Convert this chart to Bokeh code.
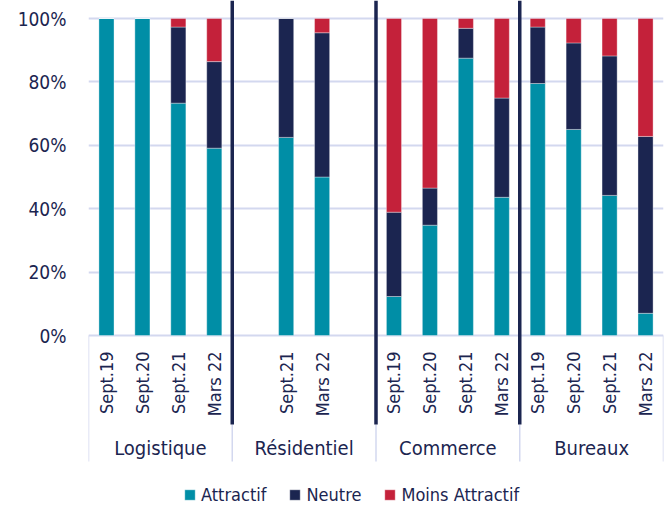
import math
from bokeh.plotting import figure
from bokeh.models import ColumnDataSource, Range1d, FixedTicker, PrintfTickFormatter
from bokeh.core.properties import value
from bokeh.embed import file_html
from bokeh.resources import INLINE

# ---------------- data ----------------
groups = ["Logistique", "Résidentiel", "Commerce", "Bureaux"]
periods = [
    ["Sept.19", "Sept.20", "Sept.21", "Mars 22"],
    ["", "Sept.21", "Mars 22", ""],
    ["Sept.19", "Sept.20", "Sept.21", "Mars 22"],
    ["Sept.19", "Sept.20", "Sept.21", "Mars 22"],
]
attractif = [
    [100, 100, 73.3, 59.1],
    [None, 62.5, 50.0, None],
    [12.3, 34.8, 87.5, 43.6],
    [79.5, 65.0, 44.2, 7.0],
]
neutre = [
    [0, 0, 24.0, 27.3],
    [None, 37.5, 45.5, None],
    [26.6, 11.7, 9.4, 31.3],
    [17.8, 27.3, 44.0, 55.8],
]
moins_attractif = [
    [0, 0, 2.7, 13.6],
    [None, 0, 4.5, None],
    [61.1, 53.5, 3.1, 25.1],
    [2.7, 7.7, 11.8, 37.2],
]
series = ["Attractif", "Neutre", "Moins Attractif"]
y_ticks = [0, 20, 40, 60, 80, 100]

# ---------------- style ----------------
FONT = "'DejaVu Sans Condensed', Roboto, sans-serif"
TEXT = "#1b2550"
COLORS = ["#008ea6", "#1b2550", "#c4213a"]
GRID = "#d3d8ef"

W, H = 670, 506
LEFT, RIGHT = 88, 7
PX = 100 / 317.0          # data units per screen pixel (vertical)
ZERO_PX = 335             # screen y of the 0% line
TOP_PX = 18               # screen y of the 100% line

n_slots = len(groups) * 4

xs, lab_x, lab_t, a, n, m = [], [], [], [], [], []
for gi, g in enumerate(groups):
    for si in range(4):
        x = gi * 4 + si
        if periods[gi][si]:
            lab_x.append(x)
            lab_t.append(periods[gi][si])
        if attractif[gi][si] is None:
            continue
        xs.append(x)
        a.append(attractif[gi][si])
        n.append(neutre[gi][si])
        m.append(moins_attractif[gi][si])

src = ColumnDataSource(dict(x=xs, Attractif=a, Neutre=n, **{"Moins Attractif": m}))

p = figure(
    width=W, height=H,
    x_range=Range1d(-0.5, n_slots - 0.5),
    y_range=Range1d(-(H - ZERO_PX) * PX, 100 + TOP_PX * PX),
    x_axis_type=None,
    output_backend="svg", toolbar_location=None,
    min_border_left=LEFT, min_border_right=RIGHT,
    min_border_top=0, min_border_bottom=0,
)
p.outline_line_color = None
p.xgrid.visible = False
p.ygrid.ticker = FixedTicker(ticks=y_ticks)
p.ygrid.grid_line_color = GRID
p.ygrid.grid_line_width = 2

ax = p.yaxis[0]
ax.ticker = FixedTicker(ticks=y_ticks)
ax.formatter = PrintfTickFormatter(format="%d%%")
ax.axis_line_color = None
ax.major_tick_line_color = None
ax.minor_tick_line_color = None
ax.major_tick_out = 0
ax.major_tick_in = 0
ax.major_label_standoff = 22
ax.major_label_text_font = FONT
ax.major_label_text_font_size = "19px"
ax.major_label_text_color = TEXT

p.vbar_stack(series, x="x", width=0.42, source=src, color=COLORS,
             line_color="white", line_alpha=0.35, line_width=1,
             legend_label=series)

bounds = [gi * 4 - 0.5 for gi in range(1, len(groups))]
edges = [-0.5, n_slots - 0.5]
y_top = 100 + TOP_PX * PX
y_navy_bot = -(424 - ZERO_PX) * PX
y_grey_bot = -(461 - ZERO_PX) * PX
p.segment(x0=bounds, x1=bounds, y0=[y_navy_bot] * len(bounds), y1=[y_grey_bot] * len(bounds),
          line_color=GRID, line_width=1.5)
p.segment(x0=edges, x1=edges, y0=[0, 0], y1=[y_grey_bot] * 2,
          line_color=GRID, line_width=1.5)
p.segment(x0=bounds, x1=bounds, y0=[y_top] * len(bounds), y1=[y_navy_bot] * len(bounds),
          line_color=TEXT, line_width=3.5)

p.text(x=lab_x, y=[0] * len(lab_x), text=lab_t, angle=math.pi / 2,
       y_offset=16, text_align="right", text_baseline="middle",
       text_font=value(FONT), text_font_size="18px", text_color=TEXT)

gx = [gi * 4 + 1.5 for gi in range(len(groups))]
p.text(x=gx, y=[0] * len(gx), text=groups, y_offset=112,
       text_align="center", text_baseline="middle",
       text_font=value(FONT), text_font_size="20px", text_color=TEXT)

lg = p.legend[0]
lg.orientation = "horizontal"
lg.location = (95, 1)
lg.margin = 0
lg.padding = 0
lg.spacing = 22
lg.border_line_color = None
lg.background_fill_alpha = 0
lg.glyph_width = 13
lg.glyph_height = 13
lg.label_standoff = 5
lg.label_height = 18
lg.label_text_font = FONT
lg.label_text_font_size = "18px"
lg.label_text_color = TEXT
lg.label_text_baseline = "middle"

open("out.html", "w").write(file_html(p, INLINE))
